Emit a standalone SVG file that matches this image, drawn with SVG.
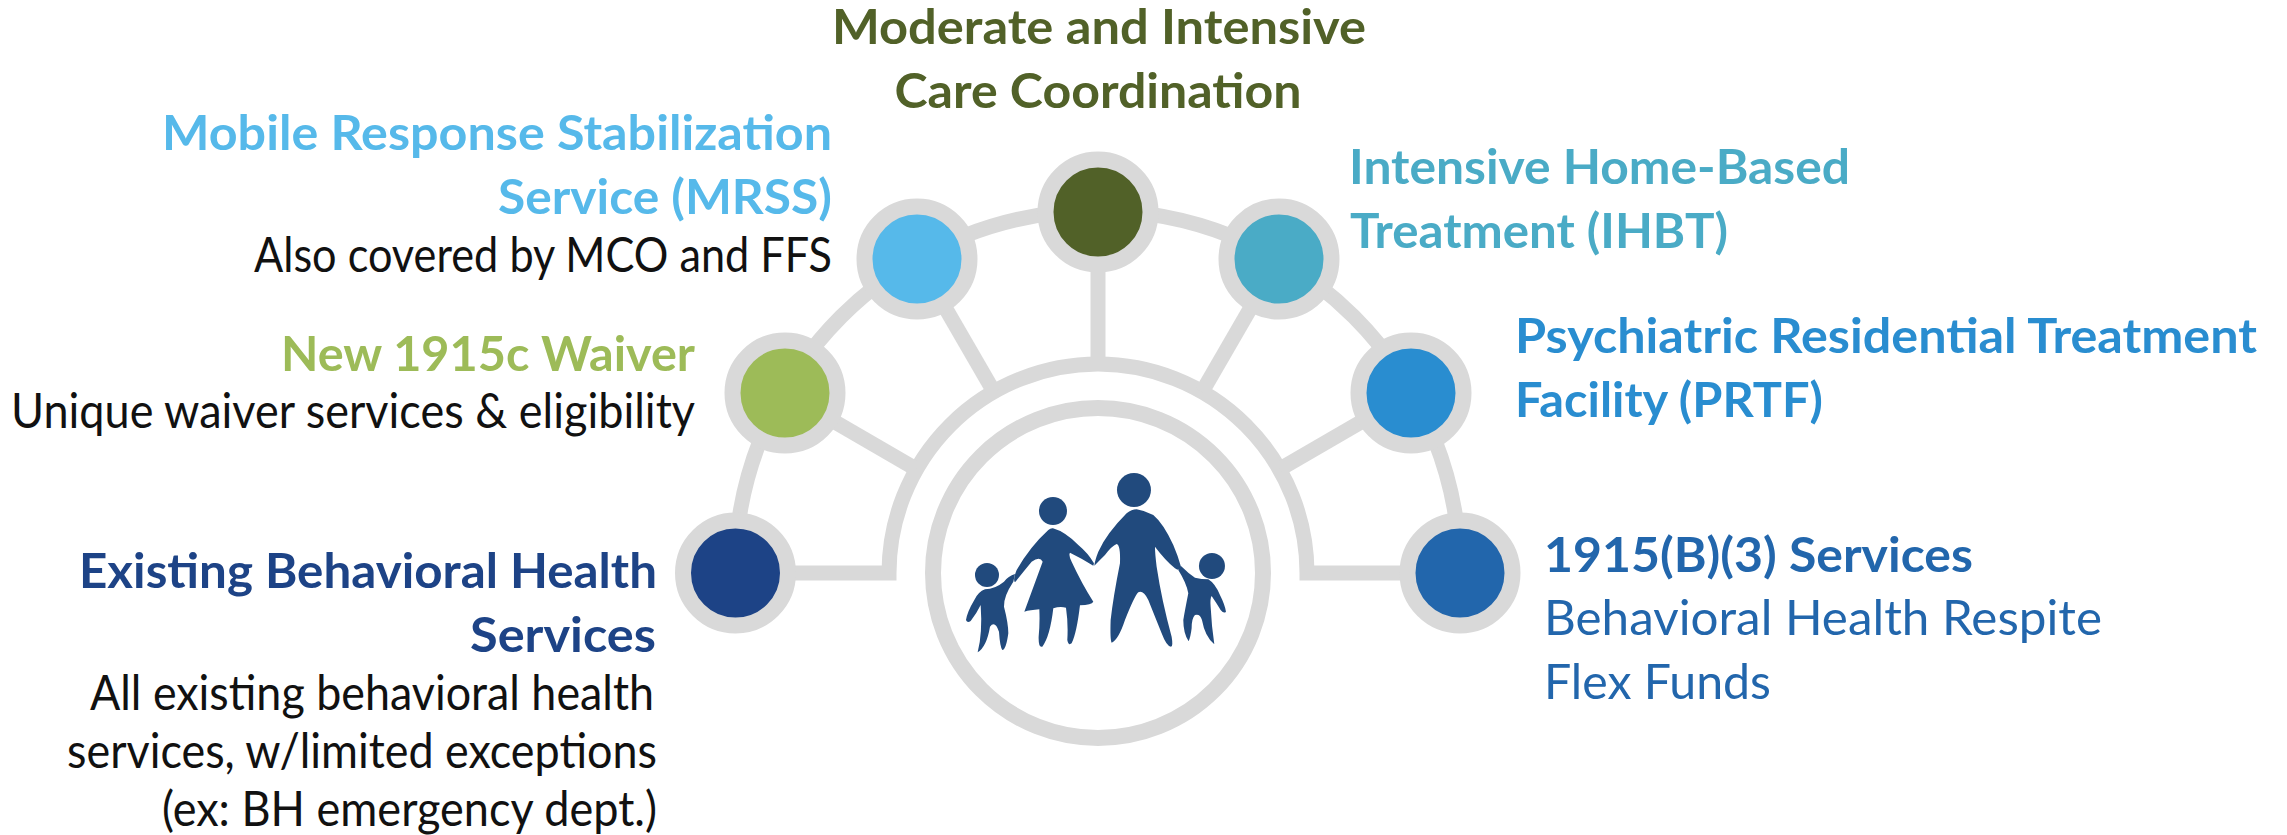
<svg xmlns="http://www.w3.org/2000/svg" width="2287" height="835" viewBox="0 0 2287 835">
<style>
text{font-family:"Lato","Carlito","Liberation Sans",sans-serif;font-size:48px}
.b{font-weight:700}
.n{font-weight:400}
.ring{fill:none;stroke:#d9d9d9;stroke-width:15}
.halo{stroke:#d9d9d9;stroke-width:16}
.fam{fill:#214a7d}
</style>
<rect width="2287" height="835" fill="#ffffff"/>
<g id="connectors" class="ring">
<path d="M735 573H889A209 209 0 0 1 1307 573H1460"/>
<path d="M735 573A362 362 0 0 1 1460 573"/>
<path d="M1098 212V365"/>
<path d="M917 259L994 392"/>
<path d="M1279 259L1202 392"/>
<path d="M785 393L916 469"/>
<path d="M1411 393L1280 469"/>
</g>
<g id="hub">
<circle cx="1098" cy="573" r="165" fill="#ffffff" stroke="#d9d9d9" stroke-width="16"/>
<g id="family" class="fam" transform="translate(880 420) scale(.3333)">
<circle cx="321" cy="465" r="36"/><circle cx="519" cy="273" r="42"/><circle cx="762" cy="210" r="51"/><circle cx="996" cy="438" r="39"/>
<path d="M405 462Q385 468 372 485Q345 507 315 508Q295 515 283 540Q262 575 258 600Q262 610 272 603Q290 580 302 555Q308 640 293 697Q320 680 330 620Q345 600 357 635Q360 680 367 690Q378 690 385 640Q385 610 372 560Q370 530 400 485Z"/>
<path d="M519 325Q555 335 595 375Q625 400 642 430L640 437Q605 415 570 398Q565 405 575 425Q605 490 640 545Q635 555 600 556Q590 640 575 670Q565 678 562 660Q565 610 558 563Q540 558 520 565Q510 650 487 680Q475 685 476 650Q480 610 478 568Q450 570 433 575L488 425Q480 408 455 425Q430 455 405 487Q398 480 410 450Q450 380 505 330Q512 324 519 325Z"/>
<path d="M770 268Q795 272 820 285Q850 310 880 375Q895 410 903 440Q898 455 885 445Q855 420 825 380Q825 400 830 440Q845 540 875 650Q880 680 873 680Q860 680 845 640Q825 590 805 540Q790 510 775 517Q765 525 735 600Q715 660 695 668Q690 660 692 600Q700 530 720 430Q722 375 710 372Q695 378 675 405Q660 420 643 437Q645 420 655 395Q680 340 740 280Q755 268 770 268Z"/>
<path d="M903 438Q925 460 945 473Q965 478 985 478Q1005 490 1020 525Q1035 555 1038 575Q1032 582 1022 570Q1010 550 995 528Q990 535 992 560Q995 620 1003 673Q975 650 966 600Q960 580 945 585Q935 595 935 625Q932 650 926 664Q910 640 910 600Q915 570 925 520Q920 490 895 450Z"/>
</g>
</g>
<g id="node-existing"><circle class="halo" cx="735.500" cy="573" r="52.500" fill="#1d4386"/>
<text class="b" fill="#1d4386" text-anchor="end" x="657" y="588" textLength="578" lengthAdjust="spacingAndGlyphs">Existing Behavioral Health</text>
<text class="b" fill="#1d4386" text-anchor="end" x="656" y="652" textLength="186" lengthAdjust="spacingAndGlyphs">Services</text>
<text class="n" fill="#111111" text-anchor="end" x="654" y="710" textLength="564" lengthAdjust="spacingAndGlyphs">All existing behavioral health</text>
<text class="n" fill="#111111" text-anchor="end" x="657" y="768" textLength="590" lengthAdjust="spacingAndGlyphs">services, w/limited exceptions</text>
<text class="n" fill="#111111" text-anchor="end" x="657" y="826" textLength="495" lengthAdjust="spacingAndGlyphs">(ex: BH emergency dept.)</text></g>
<g id="node-waiver"><circle class="halo" cx="785" cy="393" r="52.500" fill="#9dbb58"/>
<text class="b" fill="#9dbb58" text-anchor="end" x="695" y="371" textLength="414" lengthAdjust="spacingAndGlyphs">New 1915c Waiver</text>
<text class="n" fill="#111111" text-anchor="end" x="695" y="428" textLength="684" lengthAdjust="spacingAndGlyphs">Unique waiver services &amp; eligibility</text></g>
<g id="node-mrss"><circle class="halo" cx="917" cy="259" r="52.500" fill="#56b9ea"/>
<text class="b" fill="#56b9ea" text-anchor="end" x="832" y="150" textLength="670" lengthAdjust="spacingAndGlyphs">Mobile Response Stabilization</text>
<text class="b" fill="#56b9ea" text-anchor="end" x="832" y="214" textLength="334" lengthAdjust="spacingAndGlyphs">Service (MRSS)</text>
<text class="n" fill="#111111" text-anchor="end" x="832" y="272" textLength="578" lengthAdjust="spacingAndGlyphs">Also covered by MCO and FFS</text></g>
<g id="node-care"><circle class="halo" cx="1098" cy="212" r="52.500" fill="#516128"/>
<text class="b" fill="#516128" text-anchor="middle" x="1099" y="44" textLength="534" lengthAdjust="spacingAndGlyphs">Moderate and Intensive</text>
<text class="b" fill="#516128" text-anchor="middle" x="1098" y="108" textLength="407" lengthAdjust="spacingAndGlyphs">Care Coordination</text></g>
<g id="node-ihbt"><circle class="halo" cx="1279" cy="259" r="52.500" fill="#4aabc6"/>
<text class="b" fill="#4aabc6" x="1349" y="184" textLength="501" lengthAdjust="spacingAndGlyphs">Intensive Home-Based</text>
<text class="b" fill="#4aabc6" x="1350" y="248" textLength="378" lengthAdjust="spacingAndGlyphs">Treatment (IHBT)</text></g>
<g id="node-prtf"><circle class="halo" cx="1411" cy="393" r="52.500" fill="#298dd0"/>
<text class="b" fill="#298dd0" x="1515" y="353" textLength="742" lengthAdjust="spacingAndGlyphs">Psychiatric Residential Treatment</text>
<text class="b" fill="#298dd0" x="1515" y="417" textLength="308" lengthAdjust="spacingAndGlyphs">Facility (PRTF)</text></g>
<g id="node-1915b"><circle class="halo" cx="1460" cy="573" r="52.500" fill="#2266ac"/>
<text class="b" fill="#2266ac" x="1544" y="572" textLength="429" lengthAdjust="spacingAndGlyphs">1915(B)(3) Services</text>
<text class="n" fill="#2266ac" x="1544" y="635" textLength="558" lengthAdjust="spacingAndGlyphs">Behavioral Health Respite</text>
<text class="n" fill="#2266ac" x="1544" y="699" textLength="227" lengthAdjust="spacingAndGlyphs">Flex Funds</text></g>
</svg>
